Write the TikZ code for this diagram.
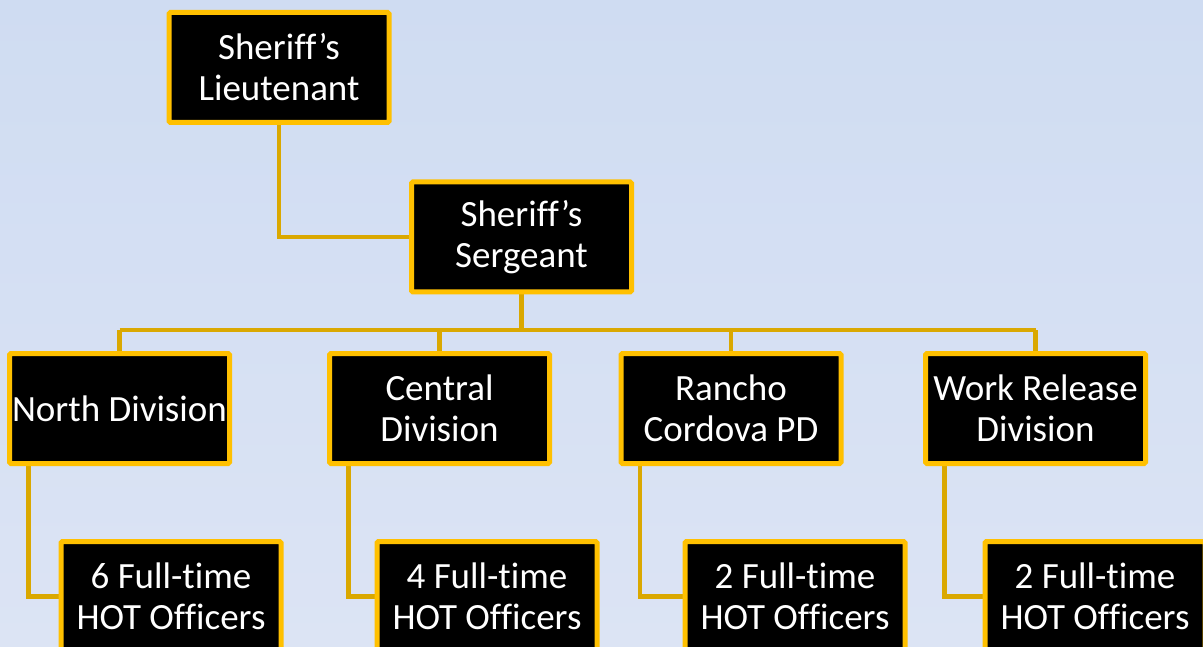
\documentclass[tikz,border=0pt]{standalone}
\usepackage{fontspec}
\setmainfont{Carlito}[Ligatures=NoCommon]
\definecolor{bgtop}{RGB}{207,220,242}
\definecolor{bgbot}{RGB}{220,228,244}
\definecolor{boxedge}{RGB}{255,192,0}
\definecolor{linkcol}{RGB}{218,168,0}
\pgfdeclarelayer{back}
\pgfdeclarelayer{links}
\pgfsetlayers{back,links,main}
\tikzset{
  orgbox/.style={draw=boxedge, line width=5pt, fill=black, text=white,
    rounded corners=1.5pt,
    minimum width=220pt, minimum height=110pt, inner sep=0pt, align=center,
    font=\fontsize{37}{41}\selectfont},
  link/.style={draw=linkcol, line width=4.5pt}
}
\begin{document}
\begin{tikzpicture}[x=1pt,y=-1pt]
\useasboundingbox (0,0) rectangle (1203,647);
\clip (0,0) rectangle (1203,647);
\begin{pgfonlayer}{back}
\shade[top color=bgtop, bottom color=bgbot] (0,0) rectangle (1203,647);
\end{pgfonlayer}

% nodes
\node[orgbox] (lt) at (279,67.5) {Sheriff’s\\Lieutenant};
\node[orgbox] (sg) at (521.5,237) {Sheriff’s\\Sergeant};
\node[orgbox] (nd) at (119.5,408.5) {North Division};
\node[orgbox] (cd) at (439.5,408.5) {Central\\Division};
\node[orgbox] (rc) at (731,408.5) {Rancho\\Cordova PD};
\node[orgbox] (wr) at (1035.5,408.5) {Work Release\\Division};
\node[orgbox] (f1) at (171,596.5) {6 Full-time\\HOT Officers};
\node[orgbox] (f2) at (487,596.5) {4 Full-time\\HOT Officers};
\node[orgbox] (f3) at (795,596.5) {2 Full-time\\HOT Officers};
\node[orgbox] (f4) at (1095,596.5) {2 Full-time\\HOT Officers};

% connectors (behind boxes)
\begin{pgfonlayer}{links}
\coordinate (busL) at (119.5,330);
\coordinate (busR) at (1035.5,330);
\path[link] (lt.south) |- (sg.west);
\path[link] (busL) -- (busR);
\path[link] (sg.south) -- (sg.south |- busL);
\path[link] (nd.north) -- (nd.north |- busL);
\path[link] (cd.north) -- (cd.north |- busL);
\path[link] (rc.north) -- (rc.north |- busL);
\path[link] (wr.north) -- (wr.north |- busL);
\path[link] ([xshift=21.5pt]nd.south west) |- (f1.west);
\path[link] ([xshift=21.5pt]cd.south west) |- (f2.west);
\path[link] ([xshift=21.5pt]rc.south west) |- (f3.west);
\path[link] ([xshift=21.5pt]wr.south west) |- (f4.west);
\end{pgfonlayer}
\end{tikzpicture}
\end{document}
